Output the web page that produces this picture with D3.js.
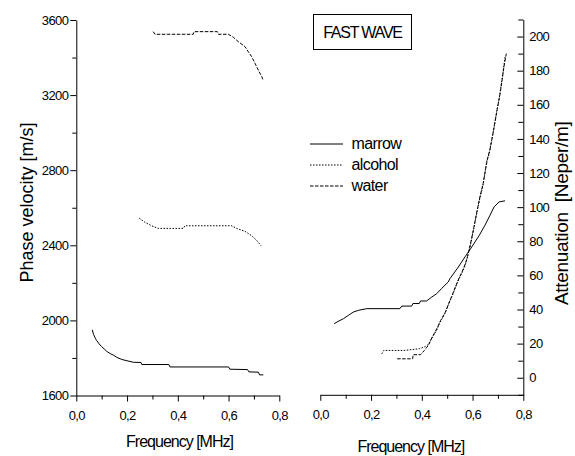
<!DOCTYPE html>
<html>
<head>
<meta charset="utf-8">
<script src="https://cdn.jsdelivr.net/npm/d3@7"></script>
<style>
  html, body { margin: 0; padding: 0; background: #fff; }
  svg { display: block; font-family: "Liberation Sans", Arial, sans-serif; }
  .tick text { font-size: 13px; letter-spacing: -0.6px; fill: #000; }
  .domain, .tick line { stroke: #000; stroke-width: 1; }
</style>
</head>
<body>
<svg id="chart" width="575" height="456"></svg>
<script>
// ---- Phase velocity (left panel), [frequency MHz, velocity m/s] ----
const velMarrow = [
  [0.063,1950],[0.068,1925],[0.075,1905],[0.080,1893],[0.090,1875],[0.100,1860],
  [0.110,1848],[0.120,1835],[0.135,1822],[0.146,1815],[0.160,1803],[0.179,1792],
  [0.200,1785],[0.225,1777],[0.255,1776],[0.258,1765],[0.365,1765],[0.369,1752],
  [0.600,1752],[0.605,1740],[0.675,1738],[0.680,1726],[0.718,1724],[0.722,1710],[0.737,1710]
];
const velAlcohol = [
  [0.248,2545],[0.271,2522],[0.297,2504],[0.323,2490],[0.422,2490],[0.428,2504],
  [0.612,2504],[0.632,2490],[0.665,2474],[0.691,2451],[0.711,2426],[0.728,2398]
];
const velWater = [
  [0.303,3538],[0.310,3524],[0.461,3524],[0.464,3538],[0.556,3538],[0.560,3524],
  [0.599,3524],[0.619,3508],[0.638,3485],[0.665,3458],[0.678,3431],[0.691,3405],
  [0.704,3370],[0.717,3334],[0.731,3298],[0.737,3276]
];

// ---- Attenuation (right panel), [frequency MHz, attenuation Neper/m] ----
const attMarrow = [
  [0.055,31.7],[0.070,33.0],[0.091,34.6],[0.110,36.5],[0.130,38.5],[0.150,39.5],
  [0.183,40.5],[0.314,40.5],[0.321,42.0],[0.360,42.0],[0.365,43.5],[0.390,43.5],
  [0.395,45.0],[0.419,45.0],[0.439,47.3],[0.459,49.3],[0.478,52.3],[0.504,56.1],
  [0.511,58.1],[0.544,64.9],[0.570,70.8],[0.597,76.7],[0.627,83.6],[0.649,89.4],
  [0.669,95.3],[0.685,100.2],[0.705,103.1],[0.728,103.7]
];
const attAlcohol = [
  [0.242,14.0],[0.250,16.0],[0.330,16.0],[0.360,16.5],[0.390,17.0],[0.410,18.0],
  [0.426,19.5],[0.439,23.0],[0.459,28.0],[0.472,32.6],[0.491,37.6],[0.504,42.5],
  [0.518,47.3],[0.531,52.3],[0.545,57.5],[0.557,61.0],[0.570,65.5],[0.577,69.0],
  [0.590,76.7],[0.603,86.0],[0.616,96.0],[0.627,104.0],[0.640,112.0],[0.649,120.0],
  [0.656,127.0],[0.666,131.5],[0.675,139.0],[0.685,147.0],[0.695,156.0],[0.705,163.8],
  [0.714,172.6],[0.721,180.0],[0.728,188.0]
];
const attWater = [
  [0.303,11.1],[0.364,11.1],[0.366,13.5],[0.395,13.5],[0.410,16.0],[0.426,19.0],
  [0.440,23.5],[0.460,29.0],[0.474,33.5],[0.493,38.5],[0.506,43.5],[0.520,48.5],
  [0.533,53.5],[0.547,58.5],[0.560,62.5],[0.572,67.0],[0.580,71.0],[0.592,78.5],
  [0.605,88.0],[0.618,98.0],[0.629,106.0],[0.642,114.0],[0.651,122.0],[0.659,128.5],
  [0.668,133.5],[0.678,141.0],[0.688,149.5],[0.698,158.0],[0.708,166.0],[0.717,175.0],
  [0.724,182.5],[0.733,190.0]
];

// ---- axis ticks and labels ----
const freqTicks = [0, 0.2, 0.4, 0.6, 0.8];
const freqMinor = [0.1, 0.3, 0.5, 0.7];
const velTicks = [1600, 2000, 2400, 2800, 3200, 3600];
const velMinor = [1800, 2200, 2600, 3000, 3400];
const attTicks = [0, 20, 40, 60, 80, 100, 120, 140, 160, 180, 200];
const attMinor = [-10, 10, 30, 50, 70, 90, 110, 130, 150, 170, 190, 210];
const seriesNames = ["marrow", "alcohol", "water"];
const dashes = { marrow: null, alcohol: "1.5,1.5", water: "3.5,1.5" };

const svg = d3.select("#chart");
const fmtFreq = d => d3.format(".1f")(d).replace(".", ",");
const fmtInt = d3.format("d");

// scales
const xL = d3.scaleLinear().domain([0, 0.8]).range([76.3, 279.3]);
const yL = d3.scaleLinear().domain([1600, 3600]).range([395.5, 20]);
const xR = d3.scaleLinear().domain([0, 0.8]).range([320.3, 523.3]);
const yR = d3.scaleLinear().domain([-10, 210]).range([394.8, 19.5]);

function styleAxis(g) {
  g.selectAll(".domain").attr("stroke", "#000");
}

// ---- left panel axes ----
svg.append("g").attr("transform", `translate(0,${yL.range()[0]})`)
  .call(d3.axisBottom(xL).tickValues(freqMinor).tickSize(4).tickFormat("").tickSizeOuter(0))
  .call(g => g.select(".domain").remove());
svg.append("g").attr("transform", `translate(0,${yL.range()[0]})`)
  .call(d3.axisBottom(xL).tickValues(freqTicks).tickSize(6).tickSizeOuter(0).tickFormat(fmtFreq).tickPadding(9))
  .call(styleAxis);
svg.append("g").attr("transform", `translate(${xL.range()[0]},0)`)
  .call(d3.axisLeft(yL).tickValues(velMinor).tickSize(4).tickFormat("").tickSizeOuter(0))
  .call(g => g.select(".domain").remove());
svg.append("g").attr("transform", `translate(${xL.range()[0]},0)`)
  .call(d3.axisLeft(yL).tickValues(velTicks).tickSize(6).tickSizeOuter(0).tickFormat(fmtInt).tickPadding(2))
  .call(styleAxis);

// ---- right panel axes ----
svg.append("g").attr("transform", `translate(0,${yR.range()[0]})`)
  .call(d3.axisBottom(xR).tickValues(freqMinor).tickSize(4).tickFormat("").tickSizeOuter(0))
  .call(g => g.select(".domain").remove());
svg.append("g").attr("transform", `translate(0,${yR.range()[0]})`)
  .call(d3.axisBottom(xR).tickValues(freqTicks).tickSize(6).tickSizeOuter(0).tickFormat(fmtFreq).tickPadding(9))
  .call(styleAxis);
svg.append("g").attr("transform", `translate(${xR.range()[1]},0)`)
  .call(d3.axisLeft(yR).tickValues(attMinor).tickSize(5).tickFormat("").tickSizeOuter(0))
  .call(g => g.select(".domain").remove());
const rAxis = svg.append("g").attr("transform", `translate(${xR.range()[1]},0)`)
  .call(d3.axisRight(yR).tickValues(attTicks).tickSize(0).tickSizeOuter(0).tickFormat(fmtInt).tickPadding(6))
  .call(styleAxis);
// major ticks of the attenuation axis point into the plot
rAxis.selectAll(".tick line").attr("x2", -6);

// ---- axis titles ----
svg.append("text").attr("x", 179.5).attr("y", 446.5).attr("text-anchor", "middle")
  .style("font-size", "16px").style("letter-spacing", "-1px").text("Frequency [MHz]");
svg.append("text").attr("x", 410.8).attr("y", 451.5).attr("text-anchor", "middle")
  .style("font-size", "16px").style("letter-spacing", "-1px").text("Frequency [MHz]");
svg.append("text").attr("transform", "translate(33,202.5) rotate(-90)").attr("text-anchor", "middle")
  .style("font-size", "18px").text("Phase velocity [m/s]");
svg.append("text").attr("transform", "translate(568,213.3) rotate(-90)").attr("text-anchor", "middle")
  .style("font-size", "19px").style("letter-spacing", "-0.3px").style("white-space", "pre")
  .text("Attenuation  [Neper/m]");

// ---- curves ----
const lineL = d3.line().x(d => xL(d[0])).y(d => yL(d[1]));
const lineR = d3.line().x(d => xR(d[0])).y(d => yR(d[1]));
const curves = [
  { data: velMarrow, line: lineL, kind: "marrow" },
  { data: velAlcohol, line: lineL, kind: "alcohol" },
  { data: velWater, line: lineL, kind: "water" },
  { data: attMarrow, line: lineR, kind: "marrow" },
  { data: attAlcohol, line: lineR, kind: "alcohol" },
  { data: attWater, line: lineR, kind: "water" }
];
svg.append("g").selectAll("path").data(curves).join("path")
  .attr("d", c => c.line(c.data))
  .attr("fill", "none")
  .attr("stroke", "#000")
  .attr("stroke-width", 1)
  .attr("stroke-dasharray", c => dashes[c.kind]);

// ---- title box ----
svg.append("rect").attr("x", 313.5).attr("y", 14.5).attr("width", 98).attr("height", 35)
  .attr("fill", "none").attr("stroke", "#000").attr("stroke-width", 1);
svg.append("text").attr("x", 362.5).attr("y", 38.3).attr("text-anchor", "middle")
  .style("font-size", "16px").style("letter-spacing", "-1.2px").text("FAST WAVE");

// ---- legend ----
const legend = svg.append("g");
const legendY = [144, 165, 186];
seriesNames.forEach((name, i) => {
  legend.append("line").attr("x1", 310).attr("x2", 343).attr("y1", legendY[i]).attr("y2", legendY[i])
    .attr("stroke", "#000").attr("stroke-width", 1).attr("stroke-dasharray", dashes[name]);
  legend.append("text").attr("x", 351.5).attr("y", legendY[i] + 4.8)
    .style("font-size", "16px").style("letter-spacing", "-0.6px").text(name);
});
</script>
</body>
</html>
